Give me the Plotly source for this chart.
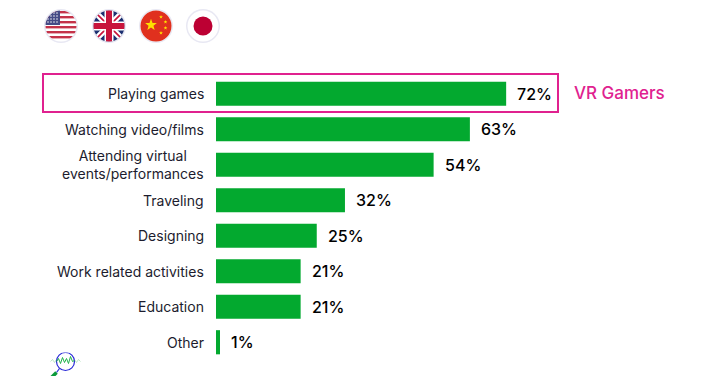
import base64
import math
import plotly.graph_objects as go

categories = ["Playing games", "Watching video/films", "Attending virtual<br>events/performances",
              "Traveling", "Designing", "Work related activities", "Education", "Other"]
values = [72, 63, 54, 32, 25, 21, 21, 1]
W, H = 722, 376
L, R, T, B = 216, 16, 76, 16
GREEN = "#03a92f"
PINK = "#e0218f"
FONT = "Inter, Lato, sans-serif"

def uri(svg):
    return "data:image/svg+xml;base64," + base64.b64encode(svg.encode()).decode()

def flag(inner):
    return uri('<svg xmlns="http://www.w3.org/2000/svg" viewBox="0 0 36 36">'
               '<defs><clipPath id="c"><circle cx="18" cy="18" r="15.5"/></clipPath></defs>'
               '<circle cx="18" cy="18" r="17" fill="#e8e8f3"/><circle cx="18" cy="18" r="15.5" fill="#fff"/>'
               f'<g clip-path="url(#c)">{inner}</g></svg>')

stripes = "".join(f'<rect x="0" y="{y}" width="36" height="2.4" fill="#c4334a"/>' for y in (3, 8, 13, 18, 23, 28))
stars = "".join(f'<circle cx="{x}" cy="{y}" r="0.75" fill="#fff"/>' for x in (5, 8, 11, 14) for y in (5, 8, 11, 14))
usa = stripes + '<rect x="2" y="2" width="15" height="15" fill="#454a86"/>' + stars
uk = ('<rect width="36" height="36" fill="#1c2f70"/>'
      '<path d="M0 0L36 36M36 0L0 36" stroke="#fff" stroke-width="6"/>'
      '<path d="M0 0L36 36M36 0L0 36" stroke="#c8143c" stroke-width="1.6"/>'
      '<path d="M18 0V36M0 18H36" stroke="#fff" stroke-width="9"/>'
      '<path d="M18 0V36M0 18H36" stroke="#c8143c" stroke-width="6"/>')

def star(cx, cy, r):
    pts = []
    for i in range(10):
        a = -math.pi / 2 + i * math.pi / 5
        rr = r if i % 2 == 0 else r * 0.42
        pts.append(f"{cx + rr * math.cos(a):.2f},{cy + rr * math.sin(a):.2f}")
    return f'<polygon points="{" ".join(pts)}" fill="#fde000"/>'

china = ('<rect width="36" height="36" fill="#e0301e"/>' + star(13, 17, 6.2)
         + star(23, 9, 2) + star(27.5, 14, 2) + star(27.5, 20, 2) + star(23, 25, 2))
japan = '<circle cx="18" cy="18" r="9.5" fill="#bc0033"/>'
logo = uri('<svg xmlns="http://www.w3.org/2000/svg" viewBox="0 0 32 28">'
           '<polyline points="1,9 3,7 5,10 7,7" fill="none" stroke="#9fdcae" stroke-width="0.7"/>'
           '<polyline points="25,7 27,10 29,7 31,9" fill="none" stroke="#9fdcae" stroke-width="0.7"/>'
           '<circle cx="16" cy="9" r="9" fill="#fff" stroke="#2a2ad8" stroke-width="1.2"/>'
           '<polyline points="7,9 9,6 11,11 13,5 15,10 17,6 19,11 21,4 23,9 25,8" fill="none" stroke="#22b34c" stroke-width="1"/>'
           '<line x1="10" y1="16" x2="7" y2="20" stroke="#2a2ad8" stroke-width="1.2"/>'
           '<line x1="7" y1="20" x2="1" y2="26" stroke="#0a9a3a" stroke-width="3.5"/></svg>')

fig = go.Figure(go.Bar(x=values, y=categories, orientation="h", marker=dict(color=GREEN, line=dict(width=0)),
                       hoverinfo="skip"))
annotations = []
for c, v in zip(categories, values):
    annotations.append(dict(x=0, y=c, xref="x", yref="y", text=c, showarrow=False, xanchor="right", align="center",
                            xshift=-10, font=dict(family=FONT, size=14, color="#1c1c2e")))
    annotations.append(dict(x=v, y=c, xref="x", yref="y", text=f"{v}%", showarrow=False, xanchor="left",
                            xshift=9, font=dict(family=FONT, size=16, color="#000", weight=500)))
annotations.append(dict(x=572 / W, y=1 - 93 / H, xref="paper", yref="paper", text="VR Gamers", showarrow=False,
                        xanchor="left", yanchor="middle", font=dict(family=FONT, size=17, color=PINK, weight=500)))

images = []
for inner, cx in ((usa, 61), (uk, 109), (china, 156), (japan, 203)):
    images.append(dict(source=flag(inner), xref="paper", yref="paper", x=(cx - 18) / W, y=1 - 8 / H,
                       sizex=36 / W, sizey=36 / H, xanchor="left", yanchor="top", layer="above"))
images.append(dict(source=logo, xref="paper", yref="paper", x=49.5 / W, y=1 - 352.5 / H,
                   sizex=32 / W, sizey=28 / H, xanchor="left", yanchor="top", layer="above"))

fig.update_layout(
    width=W, height=H, autosize=False, paper_bgcolor="#fff", plot_bgcolor="#fff", showlegend=False,
    margin=dict(l=0, r=0, t=0, b=0), bargap=0.32,
    xaxis=dict(domain=[L / W, (W - R) / W], range=[0, (W - R - L) / 4.03], visible=False, fixedrange=True),
    yaxis=dict(domain=[B / H, 1 - T / H], autorange="reversed", categoryorder="array", categoryarray=categories,
               visible=False, fixedrange=True),
    annotations=annotations, images=images,
    shapes=[dict(type="rect", xref="paper", yref="paper", x0=43 / W, x1=558 / W, y0=1 - 112 / H, y1=1 - 74 / H,
                 line=dict(color=PINK, width=2), fillcolor="rgba(0,0,0,0)")],
)
fig.write_html("out.html", config=dict(displayModeBar=False),
               post_script="document.body.style.margin='0';document.documentElement.style.overflow='hidden';")
